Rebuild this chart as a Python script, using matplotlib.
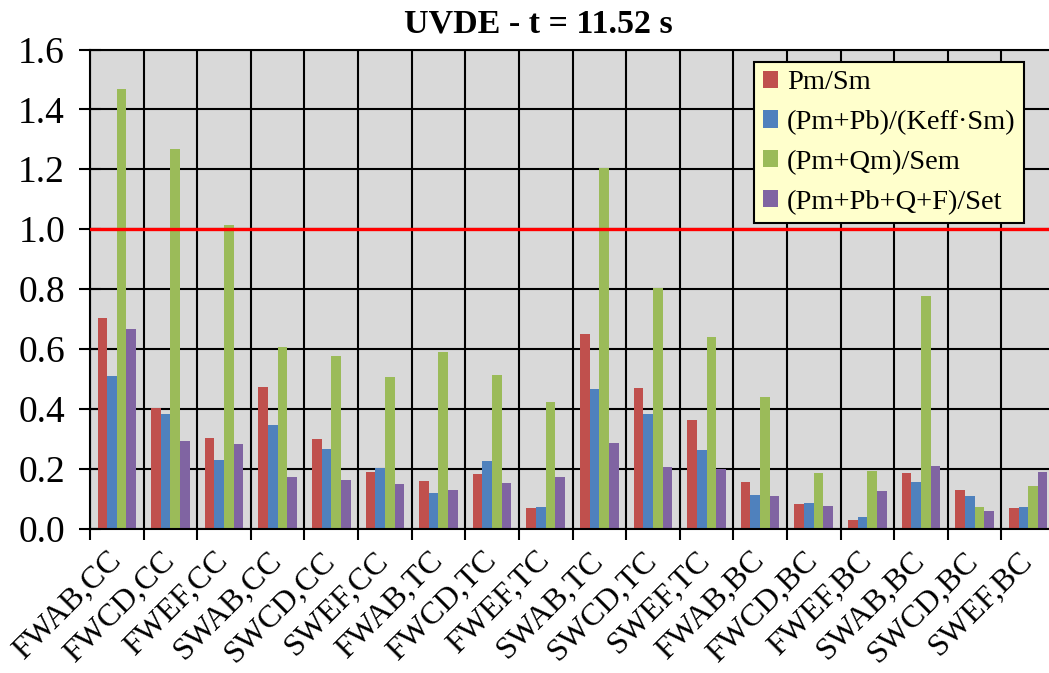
import numpy as np
import matplotlib
matplotlib.use("Agg")
import matplotlib.pyplot as plt

categories = ["FWAB,CC", "FWCD,CC", "FWEF,CC", "SWAB,CC", "SWCD,CC", "SWEF,CC",
              "FWAB,TC", "FWCD,TC", "FWEF,TC", "SWAB,TC", "SWCD,TC", "SWEF,TC",
              "FWAB,BC", "FWCD,BC", "FWEF,BC", "SWAB,BC", "SWCD,BC", "SWEF,BC"]
pm_sm = [0.702, 0.403, 0.301, 0.472, 0.299, 0.190, 0.159, 0.183, 0.067, 0.649,
         0.470, 0.362, 0.156, 0.081, 0.028, 0.184, 0.129, 0.069]
pm_pb_keff = [0.509, 0.382, 0.229, 0.346, 0.266, 0.201, 0.120, 0.225, 0.073, 0.466,
              0.382, 0.261, 0.112, 0.086, 0.037, 0.154, 0.109, 0.073]
pm_qm_sem = [1.468, 1.266, 1.014, 0.607, 0.576, 0.507, 0.591, 0.514, 0.424, 1.203,
             0.802, 0.641, 0.440, 0.184, 0.193, 0.778, 0.071, 0.143]
pm_pb_q_f_set = [0.666, 0.291, 0.282, 0.171, 0.161, 0.150, 0.129, 0.152, 0.173, 0.287,
                 0.206, 0.198, 0.109, 0.076, 0.125, 0.210, 0.057, 0.189]
series_labels = ["Pm/Sm", "(Pm+Pb)/(Keff·Sm)", "(Pm+Qm)/Sem", "(Pm+Pb+Q+F)/Set"]
colors = ["#C0504D", "#4F81BD", "#9BBB59", "#8064A2"]
limit_value = 1.0
title = "UVDE - t = 11.52 s"

plt.rcParams['font.family'] = ['Liberation Serif', 'DejaVu Serif']

W, H = 1049, 673
fig = plt.figure(figsize=(W / 100, H / 100), dpi=100)
ax = fig.add_axes([90 / W, 1 - 528.5 / H, 965 / W, 479 / H])
ax.set_facecolor("#D9D9D9")

x = np.arange(len(categories))
bw = 0.18
data = [pm_sm, pm_pb_keff, pm_qm_sem, pm_pb_q_f_set]
handles = []
for i, (vals, lab, c) in enumerate(zip(data, series_labels, colors)):
    b = ax.bar(x + (i - 1.5) * bw, vals, width=bw, color=c, label=lab, zorder=2)
    handles.append(b)

ax.axhline(limit_value, color="#FF0000", lw=2.4, zorder=3)

ax.set_xlim(-0.5, len(categories) - 0.5)
ax.set_ylim(0, 1.6)
ax.set_yticks(np.arange(0, 1.61, 0.2))
ax.set_yticklabels([f"{v:.1f}" for v in np.arange(0, 1.61, 0.2)], fontsize=27)
ax.set_xticks(np.arange(-0.5, len(categories), 1.0))
ax.set_xticklabels([])
ax.set_xticks(x, minor=True)
ax.set_xticklabels(categories, minor=True, rotation=45, ha="right", va="center",
                   rotation_mode="anchor", fontsize=23)
ax.tick_params(axis="x", which="minor", length=0, pad=20)
ax.tick_params(axis="x", which="major", direction="out", length=8, width=1.5, color="black")
ax.tick_params(axis="y", direction="inout", length=16, width=1.5, pad=10, color="black")
ax.grid(True, which="major", color="black", lw=1.5, zorder=1)
ax.set_axisbelow(True)
for s in ["left", "bottom", "top"]:
    ax.spines[s].set_color("black")
    ax.spines[s].set_linewidth(1.5)
ax.spines["right"].set_visible(False)

fig.text(538 / W, 1 - 24 / H, title, ha="center", va="center",
         fontsize=24.5, fontweight="bold")

leg = fig.legend(handles=handles, labels=series_labels, loc="upper left",
                 bbox_to_anchor=(754 / W, 1 - 61.7 / H), fontsize=20.5,
                 facecolor="#FFFFCC", edgecolor="black", framealpha=1,
                 fancybox=False, handlelength=0.55, handleheight=0.55,
                 handletextpad=0.3, labelspacing=0.52, borderpad=0.3,
                 borderaxespad=0)
leg.get_frame().set_linewidth(1.5)

fig.savefig("out.png", dpi=100)
